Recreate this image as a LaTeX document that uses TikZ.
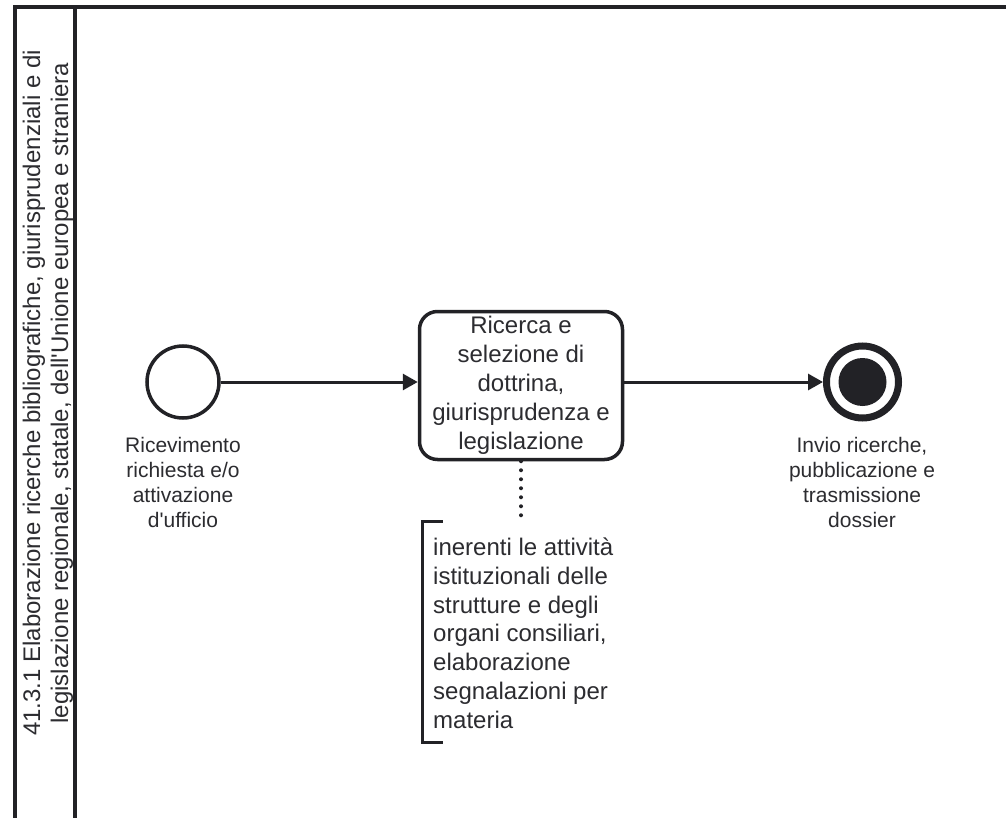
\documentclass[tikz,border=0pt]{standalone}
\usepackage{fontspec}
\setmainfont{Liberation Sans}
\usetikzlibrary{arrows.meta}
\definecolor{ink}{HTML}{222226}
\definecolor{txt}{HTML}{2C2C30}
\begin{document}
\begin{tikzpicture}[x=1pt,y=-1pt,
  frame/.style={draw=ink,line width=4pt},
  flow/.style={draw=ink,line width=3pt,-{Triangle[length=15pt,width=16pt]}},
  assoc/.style={draw=ink,line width=4pt,line cap=round,dash pattern=on 0pt off 9pt},
  taskbox/.style={draw=ink,line width=3.5pt,rounded corners=18pt,fill=white,
    minimum width=203pt,minimum height=148pt,align=center,text=txt,
    font=\fontsize{24}{29}\selectfont},
  startev/.style={circle,draw=ink,line width=3.5pt,minimum size=72pt,inner sep=0pt},
  endev/.style={circle,draw=ink,line width=7pt,minimum size=72pt,inner sep=0pt},
  endcore/.style={circle,fill=ink,minimum size=48pt,inner sep=0pt},
  evlabel/.style={align=center,text=txt,font=\fontsize{21}{25}\selectfont},
  notetext/.style={align=left,text=txt,inner sep=0pt,font=\fontsize{24}{28.7}\selectfont},
  lanetitle/.style={align=center,text=txt,rotate=90,inner sep=0pt,font=\fontsize{24}{28}\selectfont}
]
\useasboundingbox (0,0) rectangle (1006,818);
\fill[white] (0,0) rectangle (1006,818);

% pool frame and lane header
\draw[frame] (1012,7) -- (15,7) -- (15,824);
\draw[frame] (75,7) -- (75,824);
\node[lanetitle] (lane) at (48,393)
  {41.3.1 Elaborazione ricerche bibliografiche, giurisprudenziali e di\\
   legislazione regionale, statale, dell\textquotesingle Unione europea e straniera};

% events and task
\node[startev] (start) at (183,382) {};
\node[evlabel] (startlbl) at (183,482) {Ricevimento\\richiesta e/o\\attivazione\\d\textquotesingle ufficio};

\node[taskbox] (task) at (521,385.5)
  {Ricerca e\\selezione di\\dottrina,\\giurisprudenza e\\legislazione};

\node[endev] (end) at (862.5,382) {};
\node[endcore] (endc) at (end.center) {};
\node[evlabel] (endlbl) at (862,482) {Invio ricerche,\\pubblicazione e\\trasmissione\\dossier};

% sequence flows
\draw[flow] (start.east) -- (task.west |- start.east);
\draw[flow] (task.east |- end.west) -- (end.west);

% text annotation
\coordinate (btop) at (422.5,521.5);
\coordinate (bbot) at (422.5,742.5);
\draw[frame,line width=3.5pt] ([xshift=20pt]btop) -- (btop) -- (bbot) -- ([xshift=20pt]bbot);
\node[notetext,anchor=north west] (note) at (433,538)
  {inerenti le attività\\istituzionali delle\\strutture e degli\\organi consiliari,\\elaborazione\\segnalazioni per\\materia};
\draw[assoc] (task.south) -- (task.south |- btop);
\end{tikzpicture}
\end{document}
